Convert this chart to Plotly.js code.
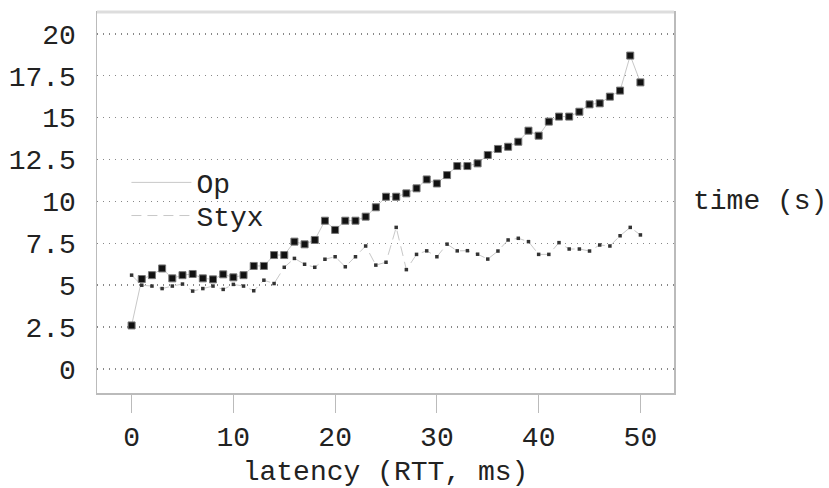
<!DOCTYPE html>
<html>
<head>
<meta charset="utf-8">
<script src="https://cdn.plot.ly/plotly-3.0.1.min.js"></script>
<style>html,body{margin:0;padding:0;background:#fff}#chart{width:829px;height:488px}</style>
</head>
<body>
<div id="chart"></div>
<script>
const latency = [];
for (let i = 0; i <= 50; i++) latency.push(i);
const opTime = [2.6, 5.37, 5.6, 6.0, 5.41, 5.6, 5.67, 5.41, 5.35, 5.65, 5.47,
  5.6, 6.15, 6.15, 6.8, 6.8, 7.6, 7.44, 7.7, 8.85, 8.3,
  8.85, 8.85, 9.09, 9.65, 10.28, 10.28, 10.48, 10.78, 11.31, 11.07,
  11.57, 12.11, 12.11, 12.27, 12.77, 13.13, 13.26, 13.56, 14.22, 13.92,
  14.76, 15.06, 15.06, 15.35, 15.79, 15.85, 16.25, 16.61, 18.7, 17.1];
const styxTime = [5.6, 5.0, 4.95, 4.8, 4.95, 5.07, 4.65, 4.8, 4.95, 4.75, 5.05,
  4.95, 4.67, 5.3, 5.1, 6.07, 6.6, 6.25, 6.07, 6.55, 6.7,
  6.1, 6.7, 7.34, 6.2, 6.37, 8.45, 5.93, 6.84, 7.05, 6.7,
  7.45, 7.05, 7.06, 6.85, 6.56, 7.04, 7.7, 7.8, 7.6, 6.84,
  6.84, 7.54, 7.16, 7.16, 7.04, 7.4, 7.34, 7.95, 8.45, 8.0];
const seriesNames = ['Op', 'Styx'];
const yTicks = [0, 2.5, 5, 7.5, 10, 12.5, 15, 17.5, 20];
const yTickText = ['0', '2.5', '5', '7.5', '10', '12.5', '15', '17.5', '20'];
const xTicks = [0, 10, 20, 30, 40, 50];

const FONT = 'Liberation Mono, Courier New, monospace';
const FS = 28;

const traces = [
  {x: latency, y: opTime, name: seriesNames[0], type: 'scatter', mode: 'lines',
   line: {color: '#c8c8c8', width: 1}, legend: 'legend'},
  {x: latency, y: styxTime, name: seriesNames[1], type: 'scatter', mode: 'lines',
   line: {color: '#c8c8c8', width: 1, dash: '10px,6px'}, legend: 'legend2'},
  {x: latency, y: styxTime, type: 'scatter', mode: 'markers', showlegend: false,
   marker: {symbol: 'square', size: 3.5, color: '#333'}},
  {x: latency, y: opTime, type: 'scatter', mode: 'markers', showlegend: false,
   marker: {symbol: 'square', size: 7, color: '#111', line: {color: '#777', width: 1}}}
];

const legendBase = {xanchor: 'left', yanchor: 'middle', bgcolor: 'rgba(0,0,0,0)', itemwidth: 60,
                    font: {family: FONT, size: FS, color: '#222'}};

const layout = {
  width: 829, height: 488,
  margin: {l: 97, r: 155, t: 12, b: 95},
  paper_bgcolor: '#fff', plot_bgcolor: '#fff',
  font: {family: FONT, size: FS, color: '#222'},
  showlegend: true,
  legend: Object.assign({x: 0.051, y: 0.552}, legendBase),
  legend2: Object.assign({x: 0.051, y: 0.465}, legendBase),
  xaxis: {range: [-3.4, 53.3], tickvals: xTicks, ticks: 'outside', ticklen: 18, tickcolor: '#bbb',
          tickwidth: 1, showgrid: false, zeroline: false, showline: true, mirror: true,
          linecolor: '#bbb', linewidth: 1.5,
          title: {text: 'latency (RTT, ms)', font: {family: FONT, size: FS}, standoff: 10},
          tickfont: {family: FONT, size: FS}},
  yaxis: {range: [-1.43, 21.3], tickvals: yTicks, ticktext: yTickText, ticks: 'outside', ticklen: 14,
          tickcolor: 'rgba(0,0,0,0)', showgrid: true, gridcolor: '#888', griddash: '1px,5px', gridwidth: 1.5,
          zeroline: false, showline: true, mirror: true, linecolor: '#bbb', linewidth: 1.5,
          tickfont: {family: FONT, size: FS}},
  shapes: [{type: 'line', xref: 'paper', yref: 'paper', x0: 0, x1: 1, y0: 1, y1: 1,
            line: {color: '#ddd', width: 3}}],
  annotations: [{text: 'time (s)', xref: 'paper', yref: 'y', x: 1.03, y: 10, xanchor: 'left',
                 yanchor: 'middle', showarrow: false, font: {family: FONT, size: FS, color: '#222'}}]
};

Plotly.newPlot('chart', traces, layout, {displayModeBar: false, staticPlot: true});
</script>
</body>
</html>
